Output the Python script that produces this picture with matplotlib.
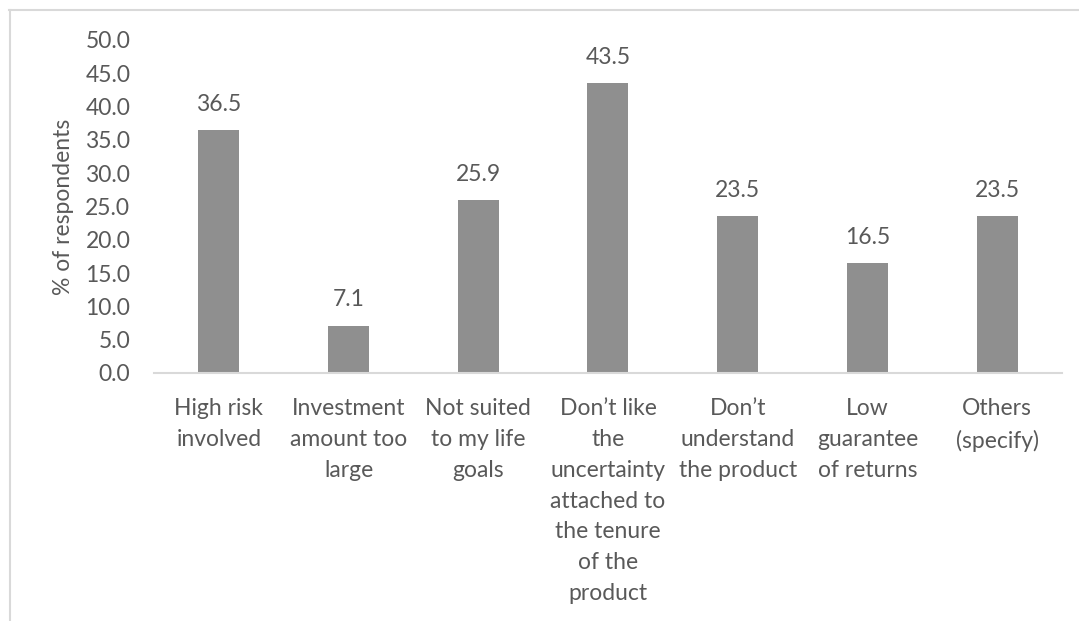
import matplotlib
matplotlib.use("Agg")
import matplotlib.pyplot as plt
from matplotlib.lines import Line2D

categories = [
    "High risk\ninvolved",
    "Investment\namount too\nlarge",
    "Not suited\nto my life\ngoals",
    "Don\u2019t like\nthe\nuncertainty\nattached to\nthe tenure\nof the\nproduct",
    "Don\u2019t\nunderstand\nthe product",
    "Low\nguarantee\nof returns",
    "Others\n(specify)",
]
values = [36.5, 7.1, 25.9, 43.5, 23.5, 16.5, 23.5]
yticks = [0, 5, 10, 15, 20, 25, 30, 35, 40, 45, 50]

TEXT = "#595959"
BAR = "#8f8f8f"
GRID = "#d9d9d9"
FS = 16.5

plt.rcParams["font.family"] = ["Lato", "DejaVu Sans"]

fig = plt.figure(figsize=(10.79, 6.21), dpi=100)
ax = fig.add_axes([0.1427, 0.3994, 0.8415, 0.5362])

x = list(range(len(values)))
ax.bar(x, values, width=0.316, color=BAR)
for xi, v in zip(x, values):
    ax.annotate(f"{v:.1f}", (xi, v), xytext=(0, 11), textcoords="offset points",
                ha="center", va="bottom", fontsize=FS, color=TEXT)

ax.set_xlim(-0.5, len(values) - 0.5)
ax.set_ylim(0, 50)
ax.set_yticks(yticks)
ax.set_yticklabels([f"{t:.1f}" for t in yticks])
ax.set_xticks(x)
ax.set_xticklabels(categories, linespacing=1.58)

ax.tick_params(axis="y", length=0, pad=17, labelsize=FS, labelcolor=TEXT)
ax.tick_params(axis="x", length=0, pad=18, labelsize=FS, labelcolor=TEXT)
for side in ("top", "right", "left"):
    ax.spines[side].set_visible(False)
ax.spines["bottom"].set_color(GRID)
ax.spines["bottom"].set_linewidth(1.5)

ax.set_ylabel("% of respondents", fontsize=FS, color=TEXT, labelpad=8)

# chart area border (top and left edges)
fig.add_artist(Line2D([9 / 1079, 1.0], [611 / 621, 611 / 621], color=GRID, lw=1.5))
fig.add_artist(Line2D([10 / 1079, 10 / 1079], [0.0, 611 / 621], color=GRID, lw=1.5))

fig.savefig("out.png", dpi=100, facecolor="white")
